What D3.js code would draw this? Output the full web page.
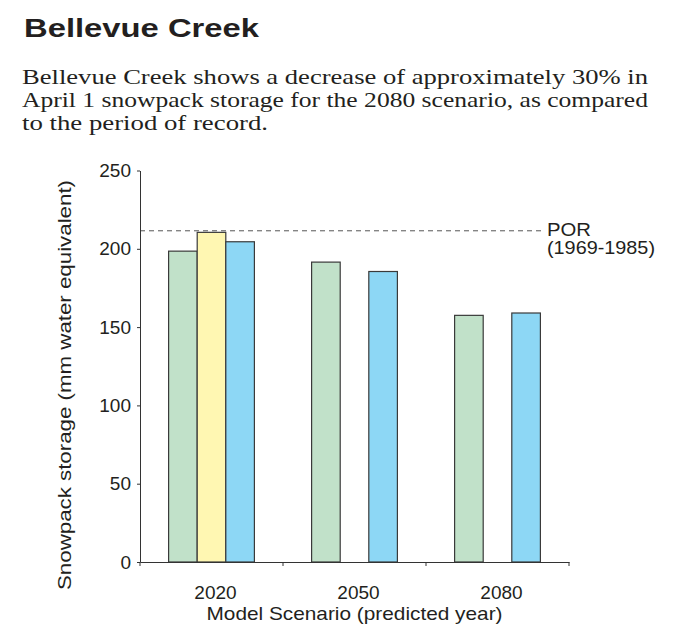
<!DOCTYPE html>
<html>
<head>
<meta charset="utf-8">
<script src="https://cdn.jsdelivr.net/npm/d3@7"></script>
<style>
  body { margin: 0; background: #fff; }
  svg { display: block; }
</style>
</head>
<body>
<svg id="chart" width="685" height="631"></svg>
<script>
// chart data
var categories = ['2020', '2050', '2080'];
var seriesKeys = ['green', 'yellow', 'blue'];
var greenValues = [198.5, 191.5, 157.5];
var yellowValues = [210.5, null, null];
var blueValues = [204.5, 185.5, 159];
var porValue = 211.5;
var yTicks = [0, 50, 100, 150, 200, 250];

var colors = { green: '#c1e1c9', yellow: '#fff7b2', blue: '#8dd7f5' };
var sans = '"Liberation Sans", Arial, sans-serif';
var serif = '"Liberation Serif", "Times New Roman", serif';
var ink = '#231f20';

var rows = categories.map(function (c, i) {
    return { cat: c, green: greenValues[i], yellow: yellowValues[i], blue: blueValues[i] };
});

var svg = d3.select('#chart');

// heading
svg.append('text')
    .attr('x', 24).attr('y', 36.5)
    .attr('font-family', sans).attr('font-weight', 'bold')
    .attr('font-size', 26.5).attr('fill', ink)
    .attr('textLength', 235).attr('lengthAdjust', 'spacingAndGlyphs')
    .text('Bellevue Creek');

var lines = [
    { t: 'Bellevue Creek shows a decrease of approximately 30% in', w: 626, y: 84 },
    { t: 'April 1 snowpack storage for the 2080 scenario, as compared', w: 626, y: 107 },
    { t: 'to the period of record.', w: 246, y: 130 }
];
svg.selectAll('.para')
    .data(lines)
    .enter()
    .append('text')
    .attr('class', 'para')
    .attr('x', 22)
    .attr('y', function (d) { return d.y; })
    .attr('font-family', serif).attr('font-size', 21.5).attr('fill', ink)
    .attr('textLength', function (d) { return d.w; })
    .attr('lengthAdjust', 'spacingAndGlyphs')
    .text(function (d) { return d.t; });

// scales
var plotLeft = 140, plotRight = 569, plotTop = 170.5, plotBottom = 562;

var x0 = d3.scaleBand().domain(categories).range([plotLeft, plotRight]).padding(0);
var bw = x0.bandwidth();
var x1 = d3.scaleBand().domain(seriesKeys).range([bw * 0.2, bw * 0.8]).padding(0);
var y = d3.scaleLinear().domain([0, 250]).range([plotBottom, plotTop]);

// bars
var groups = svg.selectAll('.grp')
    .data(rows)
    .enter()
    .append('g')
    .attr('class', 'grp')
    .attr('transform', function (d) { return 'translate(' + x0(d.cat) + ',0)'; });

groups.selectAll('rect')
    .data(function (d) {
        return seriesKeys
            .filter(function (k) { return d[k] != null; })
            .map(function (k) { return { key: k, value: d[k] }; });
    })
    .enter()
    .append('rect')
    .attr('x', function (d) { return x1(d.key); })
    .attr('width', x1.bandwidth())
    .attr('y', function (d) { return y(d.value); })
    .attr('height', function (d) { return y(0) - y(d.value); })
    .attr('fill', function (d) { return colors[d.key]; })
    .attr('stroke', '#3a3a3a')
    .attr('stroke-width', 1.2);

// period of record line
svg.append('line')
    .attr('x1', plotLeft).attr('x2', 543)
    .attr('y1', y(porValue)).attr('y2', y(porValue))
    .attr('stroke', '#555').attr('stroke-width', 1)
    .attr('stroke-dasharray', '5,4');

svg.append('text')
    .attr('x', 547).attr('y', y(porValue) + 5)
    .attr('font-family', sans).attr('font-size', 19).attr('fill', ink)
    .attr('textLength', 44).attr('lengthAdjust', 'spacingAndGlyphs')
    .text('POR');
svg.append('text')
    .attr('x', 547).attr('y', y(porValue) + 23)
    .attr('font-family', sans).attr('font-size', 19).attr('fill', ink)
    .attr('textLength', 108).attr('lengthAdjust', 'spacingAndGlyphs')
    .text('(1969-1985)');

// y axis
var yAxis = svg.append('g')
    .attr('transform', 'translate(' + plotLeft + ',0)')
    .call(d3.axisLeft(y).tickValues(yTicks).tickSize(3).tickSizeOuter(0).tickPadding(6));
yAxis.selectAll('path, line').attr('stroke', '#333');
yAxis.selectAll('text')
    .attr('font-family', sans).attr('font-size', 19).attr('fill', ink);

// x axis
var xAxis = svg.append('g')
    .attr('transform', 'translate(0,' + plotBottom + ')')
    .call(d3.axisBottom(x0).tickSize(0).tickPadding(24));
xAxis.select('.domain').attr('stroke', '#333');
xAxis.selectAll('text')
    .attr('font-family', sans).attr('font-size', 19).attr('fill', ink)
    .attr('dx', 4);

var bounds = [x0(categories[0])].concat(categories.map(function (c) { return x0(c) + bw; }));
svg.selectAll('.xtick')
    .data(bounds)
    .enter()
    .append('line')
    .attr('class', 'xtick')
    .attr('x1', function (d) { return d; }).attr('x2', function (d) { return d; })
    .attr('y1', plotBottom).attr('y2', plotBottom + 4)
    .attr('stroke', '#333');

// axis titles
svg.append('text')
    .attr('x', 354.5).attr('y', 620)
    .attr('text-anchor', 'middle')
    .attr('font-family', sans).attr('font-size', 19).attr('fill', ink)
    .attr('textLength', 296).attr('lengthAdjust', 'spacingAndGlyphs')
    .text('Model Scenario (predicted year)');

svg.append('text')
    .attr('transform', 'translate(70.5,385) rotate(-90)')
    .attr('text-anchor', 'middle')
    .attr('font-family', sans).attr('font-size', 19).attr('fill', ink)
    .attr('textLength', 410).attr('lengthAdjust', 'spacingAndGlyphs')
    .text('Snowpack storage (mm water equivalent)');
</script>
</body>
</html>
